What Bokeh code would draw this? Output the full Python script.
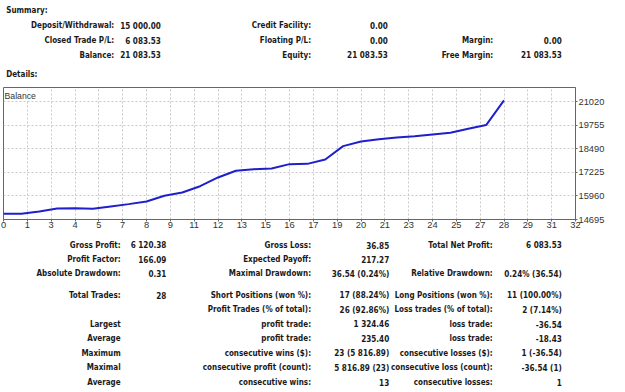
import numpy as np
from bokeh.plotting import figure
from bokeh.models import Range1d, FixedTicker, Label
from bokeh.layouts import column
from bokeh.embed import file_html
from bokeh.resources import INLINE
from bokeh.core.properties import value

# ---------------- data ----------------
trade_no = list(range(29))
balance = [15000.00, 14999.69, 15130.0, 15285.0, 15303.18, 15266.64, 15395.0,
           15520.0, 15663.0, 15967.0, 16146.0, 16480.0, 16950.0, 17307.0,
           17396.0, 17432.0, 17664.0, 17680.0, 17915.0, 18629.0, 18879.0,
           19004.0, 19094.0, 19165.0, 19255.0, 19344.0, 19558.0, 19759.07,
           21083.53]

y_tick_values = [14695, 15960, 17225, 18490, 19755, 21020]
x_tick_labels = ["0", "1", "3", "4", "5", "7", "8", "9", "11", "12", "13",
                 "15", "16", "17", "19", "20", "21", "23", "24", "25", "27",
                 "28", "29", "31", "32"]
x_max = 32

summary_lab1 = ["Deposit/Withdrawal:", "Closed Trade P/L:", "Balance:"]
summary_val1 = ["15 000.00", "6 083.53", "21 083.53"]
summary_lab2 = ["Credit Facility:", "Floating P/L:", "Equity:"]
summary_val2 = ["0.00", "0.00", "21 083.53"]
summary_lab3 = ["", "Margin:", "Free Margin:"]
summary_val3 = ["", "0.00", "21 083.53"]

stats_lab1 = ["Gross Profit:", "Profit Factor:", "Absolute Drawdown:"]
stats_val1 = ["6 120.38", "166.09", "0.31"]
stats_lab2 = ["Gross Loss:", "Expected Payoff:", "Maximal Drawdown:"]
stats_val2 = ["36.85", "217.27", "36.54 (0.24%)"]
stats_lab3 = ["Total Net Profit:", "", "Relative Drawdown:"]
stats_val3 = ["6 083.53", "", "0.24% (36.54)"]

trades_lab1 = ["Total Trades:", "", "Largest", "Average", "Maximum", "Maximal", "Average"]
trades_val1 = ["28", "", "", "", "", "", ""]
trades_lab2 = ["Short Positions (won %):", "Profit Trades (% of total):", "profit trade:",
               "profit trade:", "consecutive wins ($):", "consecutive profit (count):",
               "consecutive wins:"]
trades_val2 = ["17 (88.24%)", "26 (92.86%)", "1 324.46", "235.40", "23 (5 816.89)",
               "5 816.89 (23)", "13"]
trades_lab3 = ["Long Positions (won %):", "Loss trades (% of total):", "loss trade:",
               "loss trade:", "consecutive losses ($):", "consecutive loss (count):",
               "consecutive losses:"]
trades_val3 = ["11 (100.00%)", "2 (7.14%)", "-36.54", "-18.43", "1 (-36.54)",
               "-36.54 (1)", "1"]

# ---------------- style ----------------
FONT_NAME = "DejaVu Sans Condensed"
FONT = value(FONT_NAME)
AX_FONT = "Liberation Sans"
TXT = "#1a1a1a"
FS_LAB = "8px"
FS_VAL = "8.1px"
W = 625


def text_fig(top, bottom):
    f = figure(width=W, height=bottom - top, x_range=Range1d(0, W),
               y_range=Range1d(bottom, top), x_axis_type=None, y_axis_type=None,
               output_backend="svg", toolbar_location=None, min_border=0)
    f.outline_line_color = None
    f.grid.visible = False
    return f


def put(f, x, ys, texts, align="right", size=FS_LAB):
    f.text(x=[x] * len(texts), y=ys, text=texts, text_align=align,
           text_baseline="middle", text_font=FONT, text_font_style="bold",
           text_font_size=size, text_color=TXT)


# ---- top summary ----
A_TOP, A_BOT = 0, 85
fa = text_fig(A_TOP, A_BOT)
put(fa, 3, [10], ["Summary:"], align="left")
put(fa, 3, [74], ["Details:"], align="left")
row_y = [25, 40, 54.5]
put(fa, 121, row_y, summary_lab1)
put(fa, 172, row_y, summary_val1, size=FS_VAL)
put(fa, 336, row_y, summary_lab2)
put(fa, 420, row_y, summary_val2, size=FS_VAL)
put(fa, 535, row_y, summary_lab3)
put(fa, 610, row_y, summary_val3, size=FS_VAL)

# ---- chart ----
frame_h = 132
fb = figure(width=W, height=2 + frame_h + 15, x_range=Range1d(0, x_max),
            y_range=Range1d(14695, 21775), y_axis_location="right",
            output_backend="svg", toolbar_location=None,
            min_border_left=3, min_border_right=50, min_border_top=2,
            min_border_bottom=15)
grid_x = list(np.linspace(0, x_max, len(x_tick_labels)))
fb.xaxis.ticker = FixedTicker(ticks=grid_x)
fb.xaxis.major_label_overrides = {t: lab for t, lab in zip(grid_x, x_tick_labels)}
fb.xgrid.ticker = FixedTicker(ticks=grid_x)
fb.yaxis.ticker = FixedTicker(ticks=y_tick_values)
fb.ygrid.ticker = FixedTicker(ticks=y_tick_values)
for g in (fb.xgrid, fb.ygrid):
    g.grid_line_color = "#c9c9c9"
    g.grid_line_dash = "2 2"
for ax in (fb.xaxis, fb.yaxis):
    ax.axis_line_color = "#666666"
    ax.major_tick_line_color = "#666666"
    ax.major_tick_in = 0
    ax.major_tick_out = 2
    ax.minor_tick_line_color = None
    ax.major_label_text_font = AX_FONT
    ax.major_label_text_font_size = "9.3px"
    ax.major_label_text_color = "#333333"
fb.xaxis.major_label_standoff = 0
fb.yaxis.major_label_standoff = 1
fb.outline_line_color = "#666666"
fb.outline_line_width = 1
fb.line(trade_no, balance, line_color="#1f1fcc", line_width=2)
fb.add_layout(Label(x=1, y=frame_h - 8, x_units="screen", y_units="screen",
                    text="Balance", text_font=AX_FONT, text_font_size="8.7px",
                    text_color="#333333", text_baseline="middle",
                    background_fill_color="white"))

# ---- bottom stats ----
C_TOP, C_BOT = 234, 392
fc = text_fig(C_TOP, C_BOT)
r1 = [244.5, 259, 273]
put(fc, 128, r1, stats_lab1)
put(fc, 178, r1, stats_val1, size=FS_VAL)
put(fc, 336, r1, stats_lab2)
put(fc, 421.5, r1, stats_val2, size=FS_VAL)
put(fc, 534.5, r1, stats_lab3)
put(fc, 610, r1, stats_val3, size=FS_VAL)
r2 = [294.7, 309.3, 323.5, 338, 352.5, 367, 381.5]
put(fc, 128, r2, trades_lab1)
put(fc, 178, r2, trades_val1, size=FS_VAL)
put(fc, 336, r2, trades_lab2)
put(fc, 421.5, r2, trades_val2, size=FS_VAL)
put(fc, 534.5, r2, trades_lab3)
put(fc, 610, r2, trades_val3, size=FS_VAL)

page = column(fa, fb, fc, spacing=0)
open("out.html", "w").write(file_html(page, INLINE))
